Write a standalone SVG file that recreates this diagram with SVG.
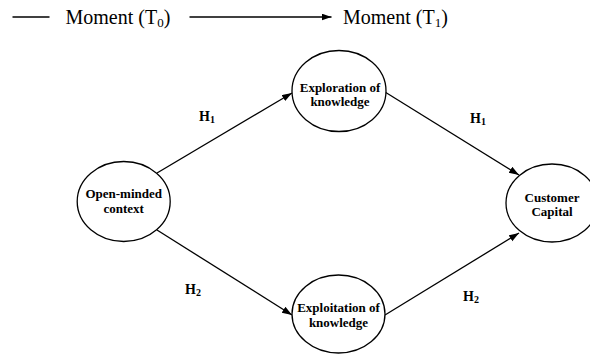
<svg xmlns="http://www.w3.org/2000/svg" width="590" height="354" viewBox="0 0 590 354">
<defs>
<marker id="ah" markerUnits="userSpaceOnUse" markerWidth="11" markerHeight="8" refX="10" refY="3.5" orient="auto">
<path d="M0,0 L10,3.5 L0,7 z" fill="#000"/>
</marker>
<style>
.node ellipse{fill:#fff;stroke:#000;stroke-width:1.3}
.node text{font-family:"Liberation Serif","Times New Roman",serif;font-weight:bold;font-size:13px;text-anchor:middle;fill:#000}
.conn line{stroke:#000;stroke-width:1.3;marker-end:url(#ah)}
.lbl{font-family:"Liberation Serif","Times New Roman",serif;font-weight:bold;font-size:14px;fill:#000}
.leg{font-family:"Liberation Serif","Times New Roman",serif;font-size:20px;fill:#000}
</style>
</defs>
<rect width="590" height="354" fill="#fff"/>
<g id="legend">
<line x1="12.5" y1="17" x2="49.5" y2="17" stroke="#000" stroke-width="1.3"/>
<text class="leg" x="65.5" y="24">Moment (T<tspan font-size="13" dy="3">0</tspan><tspan dy="-3">)</tspan></text>
<line x1="189.5" y1="17" x2="331.5" y2="17" stroke="#000" stroke-width="1.3" marker-end="url(#ah)"/>
<text class="leg" x="343" y="24">Moment (T<tspan font-size="13" dy="3">1</tspan><tspan dy="-3">)</tspan></text>
</g>
<g id="connectors" class="conn">
<line x1="157" y1="173" x2="292" y2="93"/>
<line x1="157" y1="230" x2="292" y2="315"/>
<line x1="385" y1="92" x2="519" y2="175"/>
<line x1="385" y1="315" x2="519" y2="233"/>
</g>
<g id="labels">
<text class="lbl" x="199" y="121">H<tspan font-size="10" dy="2">1</tspan></text>
<text class="lbl" x="185" y="294">H<tspan font-size="10" dy="2">2</tspan></text>
<text class="lbl" x="470" y="123">H<tspan font-size="10" dy="2">1</tspan></text>
<text class="lbl" x="463" y="301">H<tspan font-size="10" dy="2">2</tspan></text>
</g>
<g id="open-minded" class="node">
<ellipse cx="123.7" cy="201.5" rx="46.5" ry="40"/>
<text x="123.7" y="198">Open-minded</text>
<text x="123.7" y="213">context</text>
</g>
<g id="exploration" class="node">
<ellipse cx="339" cy="91" rx="47" ry="40.5"/>
<text x="340" y="91.5">Exploration of</text>
<text x="340" y="106">knowledge</text>
</g>
<g id="exploitation" class="node">
<ellipse cx="338.5" cy="314" rx="46.5" ry="39"/>
<text x="338.5" y="312.3">Exploitation of</text>
<text x="338.5" y="326.7">knowledge</text>
</g>
<g id="customer" class="node">
<ellipse cx="552" cy="203" rx="46" ry="39"/>
<text x="552" y="202">Customer</text>
<text x="552" y="215.5">Capital</text>
</g>
</svg>
